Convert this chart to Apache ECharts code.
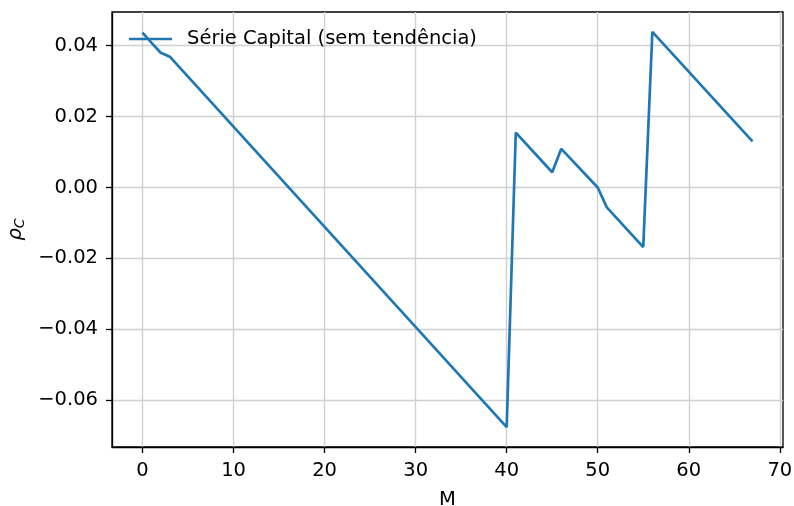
<!DOCTYPE html>
<html>
<head>
<meta charset="utf-8">
<script src="https://cdn.jsdelivr.net/npm/echarts@6/dist/echarts.min.js"></script>
<style>
  html, body { margin: 0; padding: 0; background: #ffffff; }
  #chart { width: 794px; height: 506px; }
</style>
</head>
<body>
<div id="chart"></div>
<script>
// Detrended capital series: M (lag) against rho_C
const seriesName = 'Série Capital (sem tendência)';
const mValues   = [0, 1, 2, 3, 40, 41, 45, 46, 50, 51, 55, 56, 67];
const rhoValues = [0.0437, 0.0408, 0.0380, 0.0369, -0.0676, 0.0155, 0.0043, 0.0109, 0.0000, -0.0056, -0.0168, 0.0439, 0.0130];
const xTicks = [0, 10, 20, 30, 40, 50, 60, 70];
const yTicks = [-0.06, -0.04, -0.02, 0.00, 0.02, 0.04];

const FONT = 'DejaVu Sans';
const FS = 19.5;
const INK = '#000000';
const BLUE = '#1f77b4';

const points = mValues.map((m, i) => [m, rhoValues[i]]);

const fmtY = v => (v < 0 ? '\u2212' : '') + Math.abs(v).toFixed(2);

const chart = echarts.init(document.getElementById('chart'), null, { renderer: 'canvas' });
chart.setOption({
  animation: false,
  backgroundColor: '#ffffff',
  grid: {
    left: 112, right: 11, top: 12, bottom: 59,
    containLabel: false, outerBoundsMode: 'none',
    show: true, borderColor: INK, borderWidth: 1.3, backgroundColor: 'transparent'
  },
  legend: {
    left: 129, top: 29, padding: 0,
    icon: 'rect', itemWidth: 43, itemHeight: 2.7,
    textStyle: { fontFamily: FONT, fontSize: FS, color: INK, padding: [0, 0, 0, 10] },
    data: [seriesName]
  },
  xAxis: {
    type: 'value',
    min: -3.35, max: 70.35,
    name: 'M', nameLocation: 'middle', nameGap: 43,
    nameTextStyle: { fontFamily: FONT, fontSize: FS, color: INK },
    axisLine: { show: true, onZero: false, lineStyle: { color: INK, width: 1.3 } },
    axisTick: { show: true, customValues: xTicks, length: 6, lineStyle: { color: INK, width: 1.3 } },
    axisLabel: { customValues: xTicks, margin: 14, fontFamily: FONT, fontSize: FS, color: INK },
    splitLine: { show: true, lineStyle: { color: '#d0d0d0', width: 1.4 } }
  },
  yAxis: {
    type: 'value',
    min: -0.0732, max: 0.0495,
    name: '{r|ρ}{s|C}', nameLocation: 'middle', nameGap: 84, nameRotate: 90,
    nameTextStyle: {
      rich: {
        r: { fontFamily: FONT, fontSize: FS, fontStyle: 'italic', color: INK },
        s: { fontFamily: FONT, fontSize: 14, fontStyle: 'italic', color: INK, verticalAlign: 'bottom', padding: [8, 0, 0, 0] }
      }
    },
    axisLine: { show: true, onZero: false, lineStyle: { color: INK, width: 1.3 } },
    axisTick: { show: true, customValues: yTicks, length: 6, lineStyle: { color: INK, width: 1.3 } },
    axisLabel: { customValues: yTicks, margin: 14, fontFamily: FONT, fontSize: FS, color: INK, formatter: fmtY },
    splitLine: { show: true, lineStyle: { color: '#d0d0d0', width: 1.4 } }
  },
  series: [{
    name: seriesName,
    type: 'line',
    data: points,
    showSymbol: false,
    symbol: 'none',
    lineStyle: { color: BLUE, width: 2.7 },
    itemStyle: { color: BLUE }
  }]
});
</script>
</body>
</html>
